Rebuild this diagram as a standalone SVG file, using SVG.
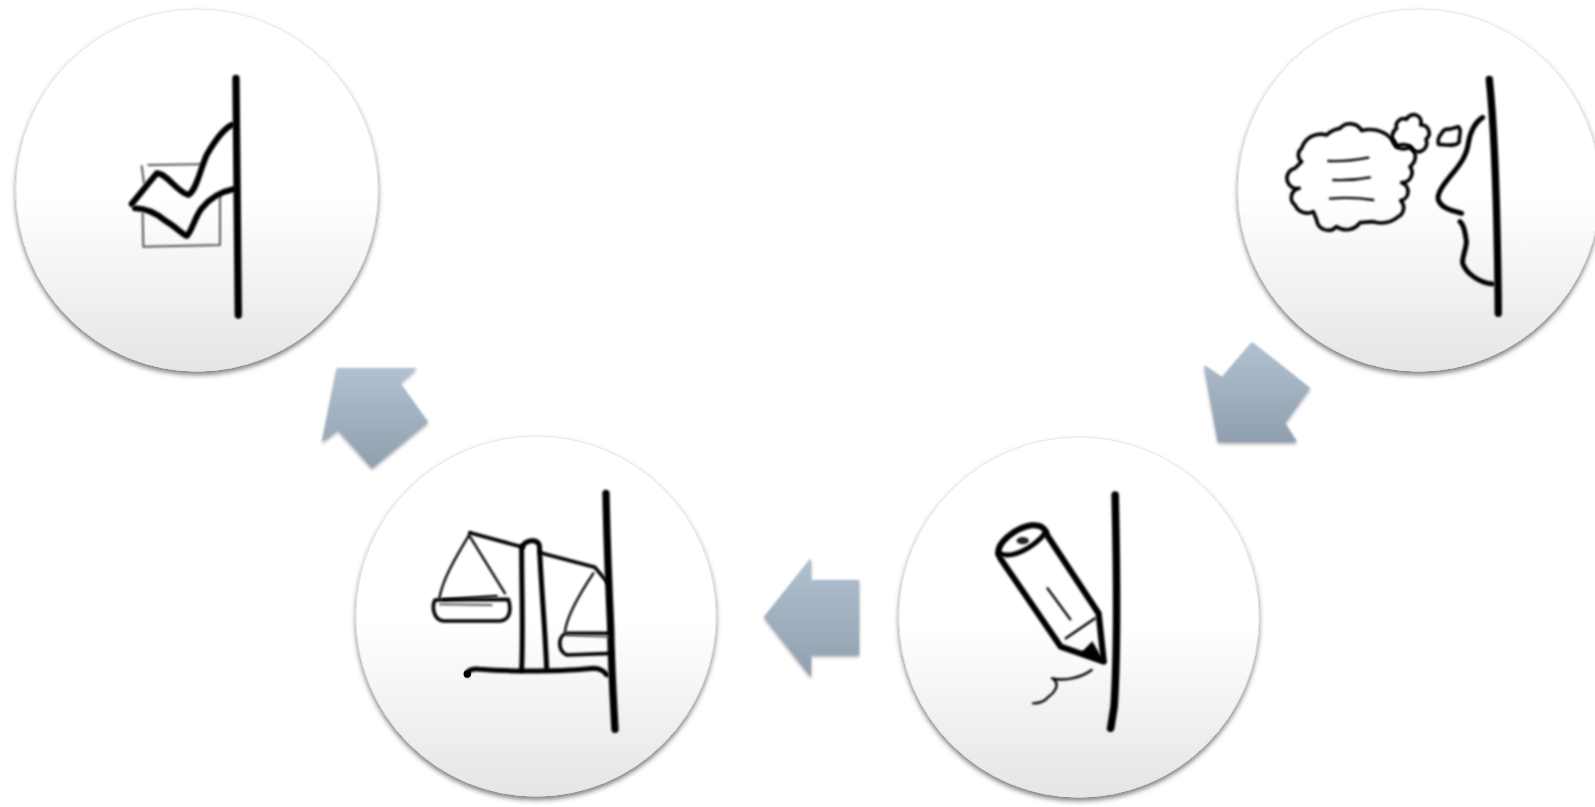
<svg xmlns="http://www.w3.org/2000/svg" width="1595" height="807" viewBox="0 0 1595 807">
<style>
.disc{fill:url(#discFill);stroke:#e6e6e6;stroke-width:1;filter:url(#discShadow)}
.arrow{fill:url(#arrowFill);filter:url(#arrowShadow)}
.ink{fill:none;stroke:#000;stroke-linecap:round;stroke-linejoin:round;filter:url(#soft)}
.wall{stroke-width:22}
.heavy{stroke-width:18}
.thick{stroke-width:15}
.mid{stroke-width:11}
.thin{stroke-width:7}
.gray{fill:none;stroke:#555;stroke-width:6;stroke-linecap:round;stroke-linejoin:round;filter:url(#soft)}
</style>
<defs>
<linearGradient id="discFill" x1="0" y1="0" x2="0" y2="1">
<stop offset="0" stop-color="#fff"/><stop offset=".52" stop-color="#fff"/><stop offset="1" stop-color="#e5e5e5"/>
</linearGradient>
<linearGradient id="arrowFill" x1="0" y1="0" x2="0" y2="1">
<stop offset="0" stop-color="#b0c1d1"/><stop offset="1" stop-color="#909fae"/>
</linearGradient>
<filter id="discShadow" x="-10%" y="-10%" width="120%" height="120%">
<feDropShadow dx="0" dy="3.5" stdDeviation="2.6" flood-color="#000" flood-opacity=".5"/>
</filter>
<filter id="arrowShadow" x="-15%" y="-15%" width="130%" height="130%">
<feGaussianBlur in="SourceGraphic" stdDeviation="1" result="b"/>
<feDropShadow in="b" dx="0" dy="2" stdDeviation="1.8" flood-color="#334" flood-opacity=".45"/>
</filter>
<filter id="soft" filterUnits="userSpaceOnUse" x="0" y="0" width="5000" height="5000">
<feGaussianBlur stdDeviation="2.6"/>
</filter>
</defs>

<g id="connectors">
<polygon class="arrow" points="1252,342 1310,388 1285,423 1297,442 1218,442 1204,365 1222,377"/>
<polygon class="arrow" points="764,617 811,558 811,580 859,580 859,655 811,655 811,677"/>
<polygon class="arrow" points="337,368 417,368 400,383 428,422 372,468 338,430 322,442"/>
</g>

<g id="node-think">
<circle class="disc" cx="1419" cy="190" r="181"/>
<g transform="translate(1180,0) scale(.3333)">
<path class="ink wall" d="M928 238C945 400 952 600 955 940"/>
<path class="ink mid" d="M365 445A60 60 0 0 1 440 405A70 70 0 0 1 480 385A40 40 0 0 1 545 392A90 90 0 0 1 630 412A40 40 0 0 1 650 440A35 35 0 0 1 690 500A30 30 0 0 1 665 548A28 28 0 0 1 662 602A30 30 0 0 1 655 650A80 80 0 0 1 580 665L540 668A50 50 0 0 1 470 680A35 35 0 0 1 410 660L400 635A40 40 0 0 1 345 615A28 28 0 0 1 358 565A30 30 0 0 1 345 505L365 485A25 25 0 0 1 365 445Z"/>
<path class="ink thin" d="M445 483C490 485 530 480 565 473M460 540C500 542 540 538 570 532M450 596C495 592 540 594 580 600"/>
<path class="ink mid" d="M650 385A22 22 0 0 1 680 358A20 20 0 0 1 722 375A24 24 0 0 1 738 418A26 26 0 0 1 690 440A32 32 0 0 1 650 385Z"/>
<path class="ink mid" d="M785 400A22 22 0 0 1 808 388L835 380C848 392 836 408 838 420C840 436 812 436 800 435L776 433C772 422 778 408 785 400Z"/>
<path class="ink thick" d="M908 352C880 370 870 400 865 430C860 470 835 500 810 530C790 555 770 580 775 600C785 625 815 632 845 640"/>
<path class="ink thick" d="M840 665C850 672 855 695 858 715C865 735 845 770 848 790C860 825 905 850 938 852"/>
</g>
</g>

<g id="node-write">
<circle class="disc" cx="1079" cy="617" r="180"/>
<g transform="translate(740,420) scale(.3448,.3333)">
<path class="ink wall" d="M1088 225C1092 400 1095 700 1085 860L1075 925"/>
<path class="ink heavy" d="M750 405C742 370 795 325 845 316C875 312 888 330 890 345L1040 580L1055 725L930 680L755 415"/>
<path class="ink thick" d="M752 400C785 418 850 385 885 340"/>
<ellipse cx="820" cy="362" rx="18" ry="11" fill="#222" style="filter:url(#soft)"/>
<path class="ink thin" d="M945 655L1030 595M892 505L958 598"/>
<polygon points="1022,664 1057,727 985,702" fill="#000" style="filter:url(#soft)"/>
<path class="ink thin" d="M1020 750C990 772 945 785 905 775C930 790 915 815 895 830C880 848 865 850 850 850"/>
</g>
</g>

<g id="node-weigh">
<circle class="disc" cx="536" cy="616" r="180"/>
<g transform="translate(300,360) scale(.3333)">
<path class="ink wall" d="M918 400C920 500 925 650 932 800C935 950 942 1050 945 1108"/>
<path class="ink mid" d="M510 518L670 562M720 578L885 622L925 670"/>
<path class="ink thin" d="M510 520C470 590 430 650 418 715M510 530L615 700M880 640C840 700 800 770 795 815"/>
<path class="ink mid" d="M405 720L625 718C635 750 630 780 600 783L430 783C400 780 395 740 405 720Z"/>
<path class="gray" d="M420 733L575 735"/>
<path class="ink thin" d="M430 718L590 708"/>
<path class="ink mid" d="M925 820L800 820C775 825 770 870 800 885L935 880"/>
<path class="gray" d="M800 825L925 830"/>
<path class="ink thick" d="M665 930C670 800 665 700 665 560C680 540 710 535 718 555C725 700 735 800 740 925"/>
<path class="ink thick" d="M502 945C500 930 520 925 540 928C620 935 800 935 880 925C900 925 915 935 920 945"/>
<circle cx="502" cy="942" r="11" fill="#000"/>
</g>
</g>

<g id="node-check">
<circle class="disc" cx="197" cy="190" r="181"/>
<g transform="scale(.3333)">
<path class="ink wall" d="M708 235L715 945"/>
<path class="gray" d="M425 498L432 548M445 495L600 493M660 590L660 735L430 740L428 640"/>
<path class="ink heavy" d="M395 612L470 520C500 520 530 575 565 585C590 570 600 510 620 465C640 430 665 390 695 375"/>
<path class="ink heavy" d="M405 625C440 625 470 640 500 665C525 680 545 700 560 708C575 695 585 650 605 625C630 595 665 575 700 568"/>
</g>
</g>
</svg>
